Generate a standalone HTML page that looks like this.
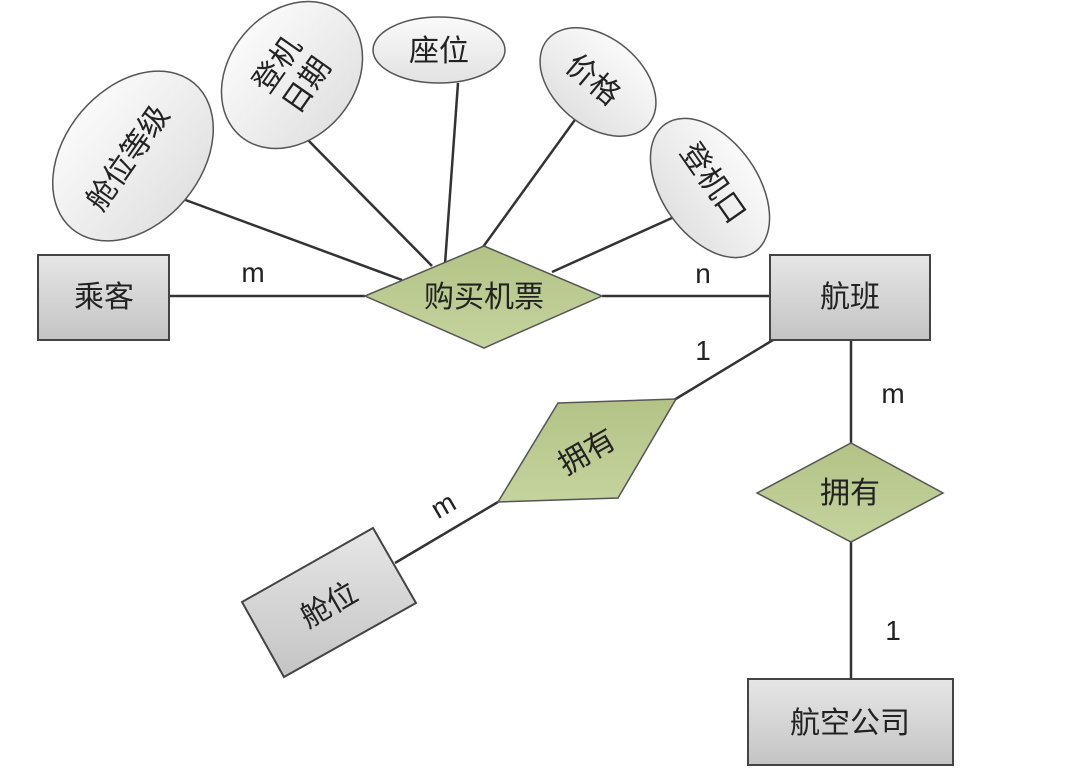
<!DOCTYPE html>
<html><head><meta charset="utf-8"><style>
html,body{margin:0;padding:0;background:#fff;}
svg{display:block;}
text{font-family:"Liberation Sans","Noto Sans CJK SC",sans-serif;fill:#222;}
</style></head><body>
<svg width="1090" height="781" viewBox="0 0 1090 781" xmlns="http://www.w3.org/2000/svg">
<defs>
<linearGradient id="rg" x1="0" y1="0" x2="0" y2="1"><stop offset="0" stop-color="#e6e6e6"/><stop offset="1" stop-color="#c4c4c4"/></linearGradient>
<linearGradient id="dg" x1="0" y1="0" x2="0" y2="1"><stop offset="0" stop-color="#b3c386"/><stop offset="1" stop-color="#c5d39e"/></linearGradient>
<linearGradient id="eg" x1="0" y1="0" x2="0" y2="1"><stop offset="0" stop-color="#fafafa"/><stop offset="1" stop-color="#e2e2e2"/></linearGradient>
</defs>
<g stroke="#333" stroke-width="2.5" fill="none">
<line x1="172" y1="195" x2="402" y2="280"/>
<line x1="305" y1="137" x2="432" y2="266"/>
<line x1="458" y1="83" x2="445" y2="264"/>
<line x1="577" y1="117" x2="483" y2="247"/>
<line x1="683" y1="213" x2="552" y2="272"/>
<line x1="169" y1="296" x2="365" y2="296"/>
<line x1="602" y1="296" x2="770" y2="296"/>
<line x1="773" y1="340" x2="674" y2="400"/>
<line x1="498" y1="502" x2="395" y2="563"/>
<line x1="851" y1="340" x2="851" y2="443"/>
<line x1="851" y1="542" x2="851" y2="679"/>
</g>
<g stroke="#555" stroke-width="1.5" fill="url(#eg)">
<ellipse cx="133" cy="156" rx="95" ry="68" transform="rotate(-50 133 156)"/>
<ellipse cx="292" cy="75" rx="80" ry="63" transform="rotate(-50 292 75)"/>
<ellipse cx="439" cy="50" rx="66" ry="33"/>
<ellipse cx="598" cy="82" rx="66" ry="44" transform="rotate(40 598 82)"/>
<ellipse cx="710" cy="188" rx="78" ry="48" transform="rotate(55 710 188)"/>
</g>
<g stroke="#444" stroke-width="2" fill="url(#rg)">
<rect x="38" y="255" width="131" height="85"/>
<rect x="770" y="255" width="160" height="85"/>
<rect x="748" y="679" width="205" height="86"/>
<polygon points="242,602 373,528 416,603 284,677"/>
</g>
<g stroke="#555" stroke-width="1.5" fill="url(#dg)">
<polygon points="365,296 484,246 602,296 484,348"/>
<polygon points="558,403 676,399 618,498 498,502"/>
<polygon points="757,493 851,443 943,493 851,542"/>
</g>
<g font-size="30">
<text x="104" y="307" text-anchor="middle">乘客</text>
<text x="850" y="307" text-anchor="middle">航班</text>
<text x="850" y="733" text-anchor="middle">航空公司</text>
<text x="484" y="307" text-anchor="middle">购买机票</text>
<text x="850" y="503" text-anchor="middle">拥有</text>
<text x="439" y="61" text-anchor="middle">座位</text>
<text transform="translate(329,605) rotate(-30)" text-anchor="middle" y="10">舱位</text>
<text transform="translate(587,452) rotate(-30)" text-anchor="middle" y="10">拥有</text>
<text transform="translate(128,158) rotate(-55)" text-anchor="middle" y="10">舱位等级</text>
<text transform="translate(292,75) rotate(-55)" text-anchor="middle"><tspan x="0" y="-8">登机</tspan><tspan x="0" y="28">日期</tspan></text>
<text transform="translate(593,80) rotate(40)" text-anchor="middle" y="10">价格</text>
<text transform="translate(713,183) rotate(55)" text-anchor="middle" y="10">登机口</text>
</g>
<g font-size="28" fill="#111">
<text x="253" y="282" text-anchor="middle">m</text>
<text x="703" y="283" text-anchor="middle">n</text>
<text x="703" y="360" text-anchor="middle">1</text>
<text x="893" y="403" text-anchor="middle">m</text>
<text x="893" y="640" text-anchor="middle">1</text>
<text transform="translate(443,505) rotate(-30)" text-anchor="middle" y="10">m</text>
</g>
</svg>
</body></html>
